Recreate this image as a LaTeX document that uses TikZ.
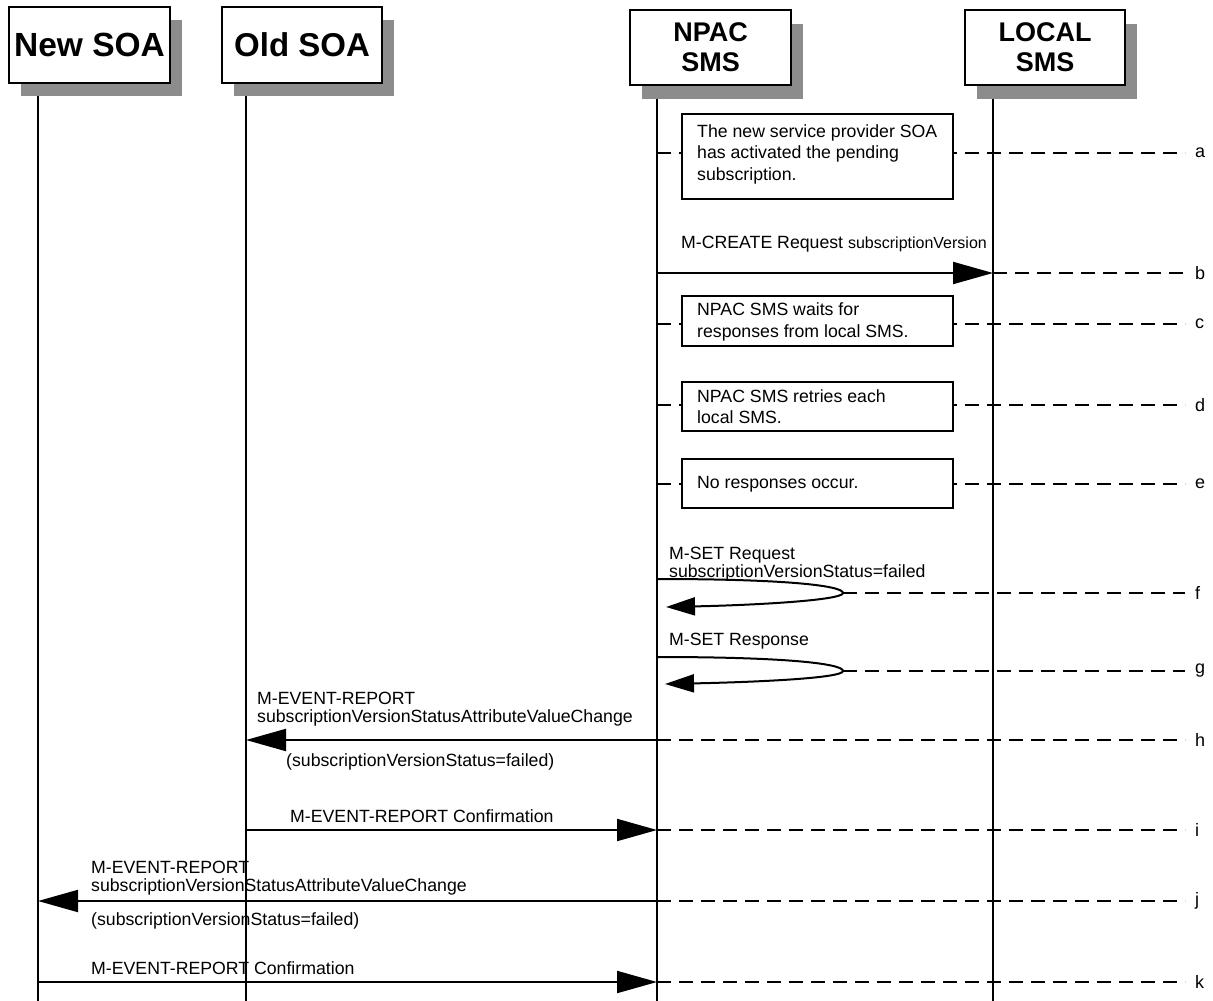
\documentclass[tikz,border=0pt]{standalone}
\usepackage{fontspec}
\setmainfont{Liberation Sans}
\usetikzlibrary{arrows.meta}
\definecolor{shadowgray}{RGB}{140,140,140}
\begin{document}
\begin{tikzpicture}[x=1pt,y=-1pt,
  hdr/.style={draw=black, line width=2pt, fill=white, inner sep=0pt, font=\bfseries, align=center},
  shadowbox/.style={fill=shadowgray, draw=none, inner sep=0pt},
  life/.style={line width=1.8pt},
  msg/.style={line width=2pt, -{Triangle[length=40pt,width=22pt]}},
  loopmsg/.style={line width=2pt, -{Triangle[length=29pt,width=18pt]}},
  guide/.style={line width=1.6pt, dash pattern=on 14pt off 8pt},
  notebox/.style={draw, line width=1.5pt, fill=white, inner sep=0pt},
  notetext/.style={font=\fontsize{17.7}{21.5}\selectfont, align=left, inner sep=0pt, anchor=west},
  lbl/.style={font=\fontsize{17.7}{18}\selectfont, align=left, inner sep=0pt, anchor=west},
  tag/.style={font=\fontsize{18}{21}\selectfont, anchor=west, inner sep=0pt}
]
\useasboundingbox (0,0) rectangle (1213,1001);

% lifelines
\coordinate (nsT) at (38,83);  \coordinate (nsB) at (38,1001);
\coordinate (osT) at (246,83); \coordinate (osB) at (246,1001);
\coordinate (npT) at (657,86); \coordinate (npB) at (657,1001);
\coordinate (lsT) at (993,86); \coordinate (lsB) at (993,1001);
\draw[life] (nsT) -- (nsB);
\draw[life] (osT) -- (osB);
\draw[life] (npT) -- (npB);
\draw[life] (lsT) -- (lsB);

% header boxes with shadows
\node[shadowbox, minimum width=161pt, minimum height=76pt] (nsS) at (101.5,58) {};
\node[hdr, minimum width=161pt, minimum height=76pt, font=\bfseries\fontsize{33.5}{36}\selectfont] (ns) at (89.5,45) {New SOA};
\node[shadowbox, minimum width=160pt, minimum height=76pt] (osS) at (314,58) {};
\node[hdr, minimum width=160pt, minimum height=76pt, font=\bfseries\fontsize{33}{36}\selectfont] (os) at (302,45) {Old SOA};
\node[shadowbox, minimum width=161pt, minimum height=75pt] (npS) at (722.5,61) {};
\node[hdr, minimum width=161pt, minimum height=75pt, font=\bfseries\fontsize{27}{30}\selectfont] (np) at (710.5,47.5) {NPAC\\SMS};
\node[shadowbox, minimum width=160pt, minimum height=75pt] (lsS) at (1057,61) {};
\node[hdr, minimum width=160pt, minimum height=75pt, font=\bfseries\fontsize{27}{30}\selectfont] (ls) at (1045,47.5) {LOCAL\\SMS};

% guide line end points
\foreach \n/\y in {a/153,b/273,c/324,d/405,e/484,f/593,g/671,h/740,i/830,j/901,k/982}{
  \coordinate (end\n) at (1185,\y);
}

% a
\coordinate (aS) at (657,153);
\draw[guide] (aS) -- (enda);
\node[notebox, minimum width=271pt, minimum height=85pt] (na) at (817.5,156.5) {};
\node[notetext] (nat) at (697,154) {The new service provider SOA\\has activated the pending\\subscription.};
\node[tag] (ta) at (1195,153) {a};

% b
\coordinate (bS) at (657,273); \coordinate (bE) at (993,273);
\draw[msg] (bS) -- (bE);
\draw[guide] (bE) -- (endb);
\node[lbl] (lb) at (681,244) {M-CREATE Request {\fontsize{16}{18}\selectfont subscriptionVersion}};
\node[tag] (tb) at (1195,273) {b};

% c
\coordinate (cS) at (657,324);
\draw[guide] (cS) -- (endc);
\node[notebox, minimum width=271pt, minimum height=50pt] (nc) at (817.5,321) {};
\node[notetext] (nct) at (697,322) {NPAC SMS waits for\\responses from local SMS.};
\node[tag] (tc) at (1195,324) {c};

% d
\coordinate (dS) at (657,405);
\draw[guide] (dS) -- (endd);
\node[notebox, minimum width=271pt, minimum height=49pt] (nd) at (817.5,406.5) {};
\node[notetext] (ndt) at (697,406.5) {NPAC SMS retries each\\local SMS.};
\node[tag] (td) at (1195,405) {d};

% e
\coordinate (eS) at (657,484);
\draw[guide] (eS) -- (ende);
\node[notebox, minimum width=271pt, minimum height=49pt] (ne) at (817.5,483.5) {};
\node[notetext] (net) at (697,484) {No responses occur.};
\node[tag] (te) at (1195,484) {e};

% f
\coordinate (fS) at (657,579); \coordinate (fR) at (843,593); \coordinate (fE) at (666,607);
\draw[loopmsg] (fS) .. controls (790,579) and (843,586) .. (fR) .. controls (843,600) and (760,605) .. (fE);
\draw[guide] (fR) -- (endf);
\node[lbl] (lf) at (669,564) {M-SET Request\\subscriptionVersionStatus=failed};
\node[tag] (tf) at (1195,593) {f};

% g
\coordinate (gS) at (657,657); \coordinate (gR) at (843,671); \coordinate (gE) at (665,684);
\draw[loopmsg] (gS) .. controls (790,657) and (843,664) .. (gR) .. controls (843,678) and (760,682) .. (gE);
\draw[guide] (gR) -- (endg);
\node[lbl] (lg) at (669,641) {M-SET Response};
\node[tag] (tg) at (1195,671) {g};

% h
\coordinate (hS) at (657,740); \coordinate (hE) at (246,740);
\draw[msg] (hS) -- (hE);
\draw[guide] (hS) -- (endh);
\node[lbl] (lh) at (257,709.5) {M-EVENT-REPORT\\subscriptionVersionStatusAttributeValueChange};
\node[lbl] (lh2) at (286,762) {(subscriptionVersionStatus=failed)};
\node[tag] (th) at (1195,740) {h};

% i
\coordinate (iS) at (246,830); \coordinate (iE) at (657,830);
\draw[msg] (iS) -- (iE);
\draw[guide] (iE) -- (endi);
\node[lbl] (li) at (290,816) {M-EVENT-REPORT Confirmation};
\node[tag] (ti) at (1195,830) {i};

% j
\coordinate (jS) at (657,901); \coordinate (jE) at (38,901);
\draw[msg] (jS) -- (jE);
\draw[guide] (jS) -- (endj);
\node[lbl] (lj) at (91,878) {M-EVENT-REPORT\\subscriptionVersionStatusAttributeValueChange};
\node[lbl] (lj2) at (91,921) {(subscriptionVersionStatus=failed)};
\node[tag] (tj) at (1195,901) {j};

% k
\coordinate (kS) at (38,982); \coordinate (kE) at (657,982);
\draw[msg] (kS) -- (kE);
\draw[guide] (kE) -- (endk);
\node[lbl] (lk) at (91,968) {M-EVENT-REPORT Confirmation};
\node[tag] (tk) at (1195,982) {k};
\end{tikzpicture}
\end{document}
